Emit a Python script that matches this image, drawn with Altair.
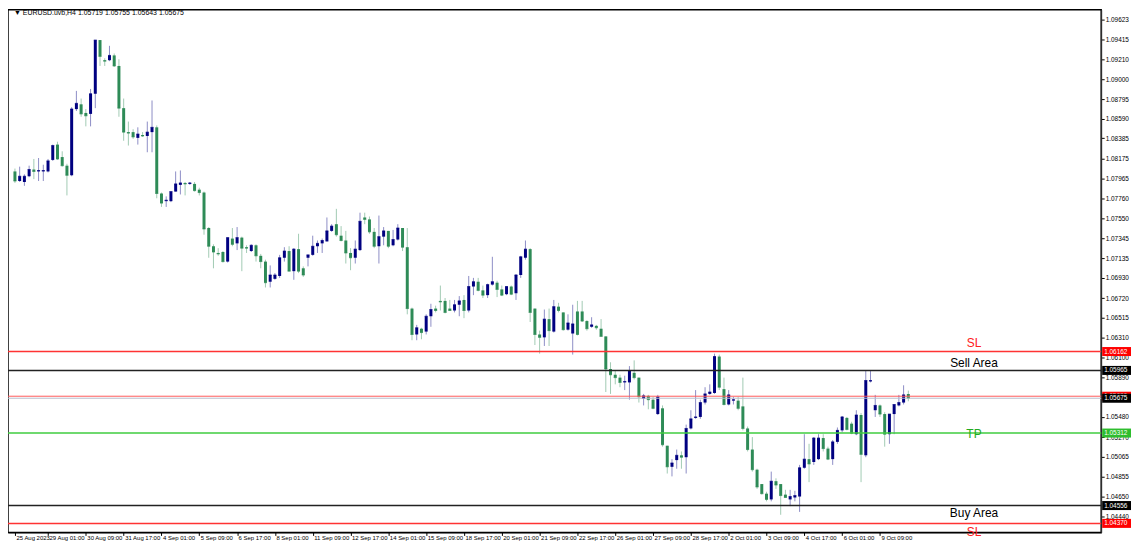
import altair as alt
import pandas as pd

# ---------------- data (EURUSD H4) ----------------
opens = [1.0804, 1.0794, 1.0793, 1.0799, 1.0806, 1.0804, 1.0804, 1.0804, 1.0816, 1.0832,
         1.0819, 1.0810, 1.0800, 1.0869, 1.0874, 1.0865, 1.0864, 1.0885, 1.0941, 1.0920,
         1.0920, 1.0925, 1.0914, 1.0870, 1.0845, 1.0845, 1.0839, 1.0842, 1.0841, 1.0845,
         1.0850, 1.0781, 1.0773, 1.0773, 1.0783, 1.0790, 1.0792, 1.0791, 1.0791, 1.0785,
         1.0782, 1.0745, 1.0726, 1.0719, 1.0720, 1.0710, 1.0734, 1.0729, 1.0735, 1.0725,
         1.0721, 1.0727, 1.0716, 1.0710, 1.0689, 1.0692, 1.0695, 1.0714, 1.0721, 1.0700,
         1.0723, 1.0703, 1.0714, 1.0717, 1.0726, 1.0729, 1.0731, 1.0742, 1.0749, 1.0737,
         1.0732, 1.0719, 1.0714, 1.0722, 1.0756, 1.0754, 1.0741, 1.0726, 1.0736, 1.0742,
         1.0727, 1.0733, 1.0745, 1.0725, 1.0661, 1.0634, 1.0640, 1.0637, 1.0653, 1.0661,
         1.0669, 1.0669, 1.0661, 1.0659, 1.0665, 1.0670, 1.0659, 1.0684, 1.0689, 1.0680,
         1.0675, 1.0686, 1.0688, 1.0681, 1.0676, 1.0684, 1.0677, 1.0696, 1.0714, 1.0723,
         1.0661, 1.0634, 1.0631, 1.0650, 1.0637, 1.0663, 1.0657, 1.0639, 1.0635, 1.0658,
         1.0658, 1.0648, 1.0642, 1.0643, 1.0640, 1.0632, 1.0598, 1.0592, 1.0589, 1.0584,
         1.0584, 1.0594, 1.0589, 1.0567, 1.0570, 1.0566, 1.0551, 1.0557, 1.0518, 1.0496,
         1.0503, 1.0508, 1.0506, 1.0536, 1.0547, 1.0548, 1.0563, 1.0572, 1.0573, 1.0611,
         1.0577, 1.0561, 1.0565, 1.0565, 1.0559, 1.0536, 1.0514, 1.0493, 1.0478, 1.0468,
         1.0462, 1.0481, 1.0478, 1.0467, 1.0462, 1.0464, 1.0465, 1.0495, 1.0504, 1.0501,
         1.0504, 1.0526, 1.0515, 1.0504, 1.0522, 1.0534, 1.0547, 1.0541, 1.0530, 1.0550,
         1.0508, 1.0585, 1.0555, 1.0560, 1.0551, 1.0530, 1.0551, 1.0560, 1.0563, 1.05719]

highs = [1.0807, 1.0809, 1.0801, 1.0810, 1.0817, 1.0818, 1.0811, 1.0817, 1.0832, 1.0835,
         1.0825, 1.0812, 1.0871, 1.0888, 1.0880, 1.0869, 1.0890, 1.0941, 1.0941, 1.0922,
         1.0935, 1.0927, 1.0921, 1.0880, 1.0856, 1.0848, 1.0850, 1.0845, 1.0856, 1.0878,
         1.0852, 1.0782, 1.0778, 1.0783, 1.0804, 1.0805, 1.0793, 1.0793, 1.0793, 1.0787,
         1.0783, 1.0746, 1.0728, 1.0724, 1.0721, 1.0735, 1.0745, 1.0746, 1.0736, 1.0727,
         1.0728, 1.0728, 1.0718, 1.0712, 1.0706, 1.0698, 1.0717, 1.0725, 1.0726, 1.0724,
         1.0739, 1.0705, 1.0717, 1.0737, 1.0732, 1.0734, 1.0756, 1.0749, 1.0765, 1.0747,
         1.0742, 1.0724, 1.0732, 1.0761, 1.0761, 1.0757, 1.0745, 1.0758, 1.0746, 1.0742,
         1.0743, 1.0749, 1.0745, 1.0745, 1.0662, 1.0644, 1.0641, 1.0655, 1.0666, 1.0664,
         1.0685, 1.0672, 1.0670, 1.0670, 1.0674, 1.0675, 1.0695, 1.0693, 1.0693, 1.0685,
         1.0687, 1.0715, 1.0690, 1.0685, 1.0684, 1.0685, 1.0697, 1.0716, 1.0732, 1.0724,
         1.0661, 1.0638, 1.0660, 1.0661, 1.0670, 1.0667, 1.0657, 1.0655, 1.0665, 1.0669,
         1.0669, 1.0649, 1.0652, 1.0644, 1.0650, 1.0632, 1.0605, 1.0596, 1.0592, 1.0591,
         1.0601, 1.0607, 1.0589, 1.0572, 1.0571, 1.0569, 1.0571, 1.0560, 1.0518, 1.0504,
         1.0514, 1.0512, 1.0540, 1.0555, 1.0576, 1.0566, 1.0579, 1.0582, 1.0614, 1.0613,
         1.0589, 1.0576, 1.0569, 1.0569, 1.0589, 1.0538, 1.0527, 1.0494, 1.0478, 1.0470,
         1.0491, 1.0484, 1.0478, 1.0472, 1.0472, 1.0471, 1.0498, 1.0530, 1.0520, 1.0527,
         1.0530, 1.0530, 1.0517, 1.0524, 1.0537, 1.0549, 1.0548, 1.0543, 1.0555, 1.0552,
         1.0596, 1.0596, 1.0571, 1.0561, 1.0553, 1.0551, 1.0561, 1.0571, 1.0581, 1.05755]

lows = [1.0792, 1.0793, 1.0789, 1.0798, 1.0796, 1.0794, 1.0794, 1.0803, 1.0815, 1.0816,
        1.0809, 1.0779, 1.0799, 1.0867, 1.0861, 1.0851, 1.0851, 1.0870, 1.0914, 1.0914,
        1.0919, 1.0913, 1.0861, 1.0836, 1.0831, 1.0838, 1.0832, 1.0840, 1.0824, 1.0824,
        1.0776, 1.0767, 1.0767, 1.0772, 1.0783, 1.0780, 1.0779, 1.0790, 1.0783, 1.0779,
        1.0738, 1.0714, 1.0703, 1.0716, 1.0709, 1.0709, 1.0726, 1.0722, 1.0700, 1.0719,
        1.0720, 1.0710, 1.0703, 1.0683, 1.0683, 1.0691, 1.0693, 1.0710, 1.0700, 1.0691,
        1.0698, 1.0694, 1.0705, 1.0716, 1.0719, 1.0719, 1.0731, 1.0741, 1.0736, 1.0731,
        1.0708, 1.0701, 1.0708, 1.0721, 1.0749, 1.0739, 1.0724, 1.0708, 1.0727, 1.0724,
        1.0726, 1.0732, 1.0721, 1.0655, 1.0628, 1.0628, 1.0629, 1.0634, 1.0642, 1.0657,
        1.0659, 1.0656, 1.0659, 1.0657, 1.0653, 1.0651, 1.0657, 1.0675, 1.0679, 1.0672,
        1.0672, 1.0685, 1.0673, 1.0674, 1.0675, 1.0675, 1.0670, 1.0693, 1.0712, 1.0647,
        1.0623, 1.0614, 1.0622, 1.0622, 1.0636, 1.0657, 1.0638, 1.0638, 1.0613, 1.0633,
        1.0647, 1.0638, 1.0641, 1.0639, 1.0632, 1.0574, 1.0572, 1.0582, 1.0579, 1.0576,
        1.0566, 1.0587, 1.0563, 1.0560, 1.0556, 1.0556, 1.0550, 1.0517, 1.0489, 1.0486,
        1.0494, 1.0494, 1.0489, 1.0535, 1.0546, 1.0546, 1.0561, 1.0571, 1.0572, 1.0576,
        1.0560, 1.0560, 1.0561, 1.0555, 1.0534, 1.0512, 1.0491, 1.0473, 1.0467, 1.0460,
        1.0460, 1.0473, 1.0446, 1.0464, 1.0455, 1.0460, 1.0449, 1.0494, 1.0480, 1.0498,
        1.0503, 1.0512, 1.0503, 1.0498, 1.0520, 1.0532, 1.0534, 1.0530, 1.0529, 1.0480,
        1.0506, 1.0584, 1.0548, 1.0548, 1.0517, 1.0520, 1.0530, 1.0559, 1.0561, 1.05643]

closes = [1.0794, 1.0799, 1.0799, 1.0806, 1.0804, 1.0805, 1.0805, 1.0815, 1.0831, 1.0817,
          1.0810, 1.0800, 1.0869, 1.0875, 1.0864, 1.0862, 1.0885, 1.0941, 1.0924, 1.0919,
          1.0925, 1.0914, 1.0870, 1.0845, 1.0844, 1.0840, 1.0843, 1.0841, 1.0845, 1.0850,
          1.0781, 1.0771, 1.0774, 1.0783, 1.0791, 1.0792, 1.0791, 1.0792, 1.0784, 1.0782,
          1.0744, 1.0726, 1.0720, 1.0718, 1.0710, 1.0735, 1.0728, 1.0735, 1.0724, 1.0724,
          1.0727, 1.0716, 1.0710, 1.0688, 1.0696, 1.0696, 1.0714, 1.0721, 1.0700, 1.0723,
          1.0700, 1.0696, 1.0717, 1.0726, 1.0729, 1.0732, 1.0742, 1.0747, 1.0738, 1.0732,
          1.0719, 1.0714, 1.0723, 1.0752, 1.0754, 1.0741, 1.0726, 1.0736, 1.0742, 1.0726,
          1.0733, 1.0745, 1.0725, 1.0661, 1.0634, 1.0641, 1.0636, 1.0653, 1.0660, 1.0659,
          1.0668, 1.0657, 1.0659, 1.0665, 1.0669, 1.0659, 1.0684, 1.0689, 1.0680, 1.0675,
          1.0686, 1.0689, 1.0681, 1.0675, 1.0684, 1.0676, 1.0696, 1.0715, 1.0723, 1.0657,
          1.0634, 1.0631, 1.0650, 1.0638, 1.0663, 1.0659, 1.0639, 1.0646, 1.0645, 1.0634,
          1.0648, 1.0640, 1.0644, 1.0641, 1.0632, 1.0598, 1.0592, 1.0589, 1.0584, 1.0585,
          1.0596, 1.0589, 1.0569, 1.0570, 1.0566, 1.0557, 1.0569, 1.0519, 1.0496, 1.0500,
          1.0508, 1.0506, 1.0536, 1.0546, 1.0548, 1.0563, 1.0572, 1.0574, 1.0611, 1.0579,
          1.0561, 1.0571, 1.0566, 1.0557, 1.0536, 1.0514, 1.0493, 1.0475, 1.0468, 1.0462,
          1.0481, 1.0477, 1.0466, 1.0464, 1.0465, 1.0466, 1.0495, 1.0504, 1.0499, 1.0526,
          1.0526, 1.0515, 1.0504, 1.0522, 1.0534, 1.0548, 1.0535, 1.0531, 1.0550, 1.0509,
          1.0586, 1.0586, 1.0560, 1.0551, 1.0530, 1.0551, 1.0561, 1.0563, 1.0571, 1.05675]

time_labels = ["25 Aug 2023", "29 Aug 01:00", "30 Aug 09:00", "31 Aug 17:00", "4 Sep 01:00",
               "5 Sep 09:00", "6 Sep 17:00", "8 Sep 01:00", "11 Sep 09:00", "12 Sep 17:00",
               "14 Sep 01:00", "15 Sep 09:00", "18 Sep 17:00", "20 Sep 01:00", "21 Sep 09:00",
               "22 Sep 17:00", "26 Sep 01:00", "27 Sep 09:00", "28 Sep 17:00", "2 Oct 01:00",
               "3 Oct 09:00", "4 Oct 17:00", "6 Oct 01:00", "9 Oct 09:00"]
time_label_bars = [0, 7, 15, 23, 31, 39, 47, 55, 63, 71, 79, 87, 95, 103, 111, 119,
                   127, 135, 143, 151, 159, 167, 175, 183]

price_ticks = [1.04440, 1.04650, 1.04855, 1.05065, 1.05270, 1.05480, 1.05685, 1.05890,
               1.06100, 1.06310, 1.06515, 1.06720, 1.06930, 1.07135, 1.07345, 1.07550,
               1.07760, 1.07965, 1.08175, 1.08385, 1.08590, 1.08795, 1.09000, 1.09210,
               1.09415, 1.09623]

sl_top = 1.06162
sell_area = 1.05965
ask_price = 1.05696
bid_price = 1.05675
tp_level = 1.05312
buy_area = 1.04556
sl_bottom = 1.04370

header = "\u25BC EURUSD.uvb,H4  1.05719 1.05755 1.05643 1.05675"

# ---------------- chart ----------------
W, H = 1100, 526
FONT = "Liberation Sans"
UP = "#000080"
DN = "#2e8b57"

df = pd.DataFrame({"i": list(range(len(opens))), "open": opens, "high": highs,
                   "low": lows, "close": closes})

xs = alt.Scale(domain=[-0.4167, 228.75], nice=False, zero=False)
ys = alt.Scale(domain=[1.04276, 1.09727], nice=False, zero=False)

label_expr = "[" + ",".join("'" + t + "'" for t in time_labels) + "][floor((datum.value + 1) / 8)]"

x_axis = alt.Axis(values=time_label_bars, labelExpr=label_expr, labelAlign="left",
                  labelBaseline="top", labelFontSize=6, labelFont=FONT, labelColor="#000",
                  tickColor="#000", tickSize=3, labelPadding=-1, labelOffset=1, grid=False,
                  domain=True, domainColor="#000", title=None, labelOverlap=False,
                  labelFlush=False, labelBound=False)
y_axis = alt.Axis(orient="right", values=price_ticks, format=".5f", labelFontSize=6.5,
                  labelFont=FONT, labelColor="#000", tickColor="#000", tickSize=3,
                  labelPadding=1, grid=False, domain=True, domainColor="#333",
                  title=None, labelOverlap=False, labelFlush=False, labelBound=False)

color = alt.condition("datum.close > datum.open", alt.value(UP), alt.value(DN))

base = alt.Chart(df)
wicks = base.mark_rule(strokeWidth=1, opacity=0.45).encode(
    x=alt.X("i:Q", scale=xs, axis=x_axis),
    y=alt.Y("low:Q", scale=ys, axis=y_axis),
    y2="high:Q",
    color=color,
)
bodies = base.mark_bar(size=3).encode(
    x=alt.X("i:Q", scale=xs, axis=x_axis),
    y=alt.Y("open:Q", scale=ys, axis=y_axis),
    y2="close:Q",
    color=color,
)
doji = base.mark_tick(orient="horizontal", size=3, thickness=1).encode(
    x=alt.X("i:Q", scale=xs, axis=x_axis),
    y=alt.Y("close:Q", scale=ys, axis=y_axis),
    color=color,
)


def hline(price, col, width):
    return alt.Chart(pd.DataFrame({"p": [price]})).mark_rule(color=col, strokeWidth=width).encode(
        y=alt.Y("p:Q", scale=ys, axis=y_axis))


def note(price, text, col, dy):
    return alt.Chart(pd.DataFrame({"p": [price]})).mark_text(
        text=text, color=col, fontSize=12, font=FONT, dy=dy, align="center", baseline="middle"
    ).encode(x=alt.value(972), y=alt.Y("p:Q", scale=ys, axis=y_axis))


def tag(price, col):
    d = pd.DataFrame({"p": [price], "t": ["%.5f" % price]})
    c = alt.Chart(d).transform_calculate(top="datum.p + 0.00047", bot="datum.p - 0.00047")
    r = c.mark_rect(color=col).encode(
        x=alt.value(W + 1), x2=alt.value(W + 30),
        y=alt.Y("top:Q", scale=ys, axis=y_axis), y2="bot:Q")
    t = c.mark_text(color="white", fontSize=6.5, font=FONT, align="left", baseline="middle").encode(
        x=alt.value(W + 3), y=alt.Y("p:Q", scale=ys, axis=y_axis), text="t:N")
    return r + t


levels = (
    hline(sl_top, "#ff3333", 1.5)
    + hline(sell_area, "#222222", 1.5)
    + hline(ask_price, "#ff5a5a", 1)
    + hline(bid_price, "#b8bccc", 1)
    + hline(tp_level, "#3fcc3f", 1.5)
    + hline(buy_area, "#222222", 1.5)
    + hline(sl_bottom, "#ff3333", 1.5)
)

notes = (
    note(sl_top, "SL", "#ff2020", -9)
    + note(sell_area, "Sell Area", "#000000", -7)
    + note(tp_level, "TP", "#22aa22", 1)
    + note(buy_area, "Buy Area", "#000000", 8)
    + note(sl_bottom, "SL", "#ff2020", 9)
)

tags = (
    tag(sl_top, "#ff0000")
    + tag(sell_area, "#000000")
    + tag(ask_price, "#ff0000")
    + tag(bid_price, "#000000")
    + tag(tp_level, "#2ebd2e")
    + tag(buy_area, "#000000")
    + tag(sl_bottom, "#ff0000")
)

head = alt.Chart(pd.DataFrame({"t": [header]})).mark_text(
    fontSize=7, font=FONT, color="#000", align="left", baseline="middle"
).encode(x=alt.value(6), y=alt.value(3), text="t:N")

chart = alt.layer(wicks, bodies, doji, levels, notes, tags, head).properties(
    width=W, height=H,
    autosize=alt.AutoSizeParams(type="none"),
    padding={"left": 0, "top": 0, "right": 30, "bottom": 10},
    background="white",
).configure_view(stroke="#000", strokeWidth=1.5).configure_axis(
    labelOverlap=False, labelFlush=False
)

chart.save("out.html", embed_options={"renderer": "svg", "actions": False})
